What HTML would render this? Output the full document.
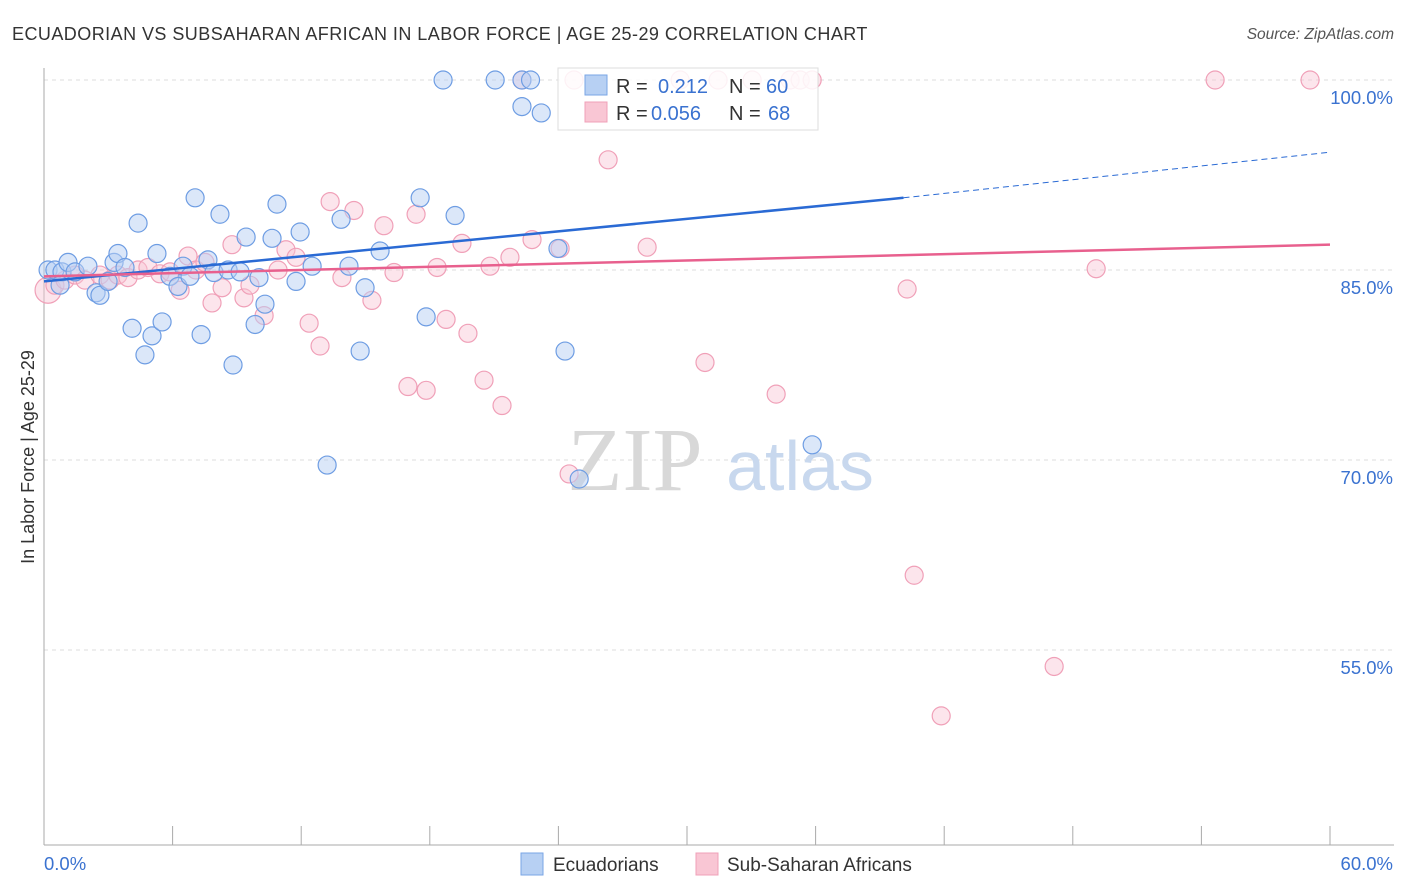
<!DOCTYPE html>
<html><head><meta charset="utf-8"><style>
body{margin:0;background:#fff;font-family:"Liberation Sans",sans-serif;}
svg{display:block}
</style></head><body>
<svg width="1406" height="892" xmlns="http://www.w3.org/2000/svg">
<text x="12" y="40" font-size="18" fill="#333" letter-spacing="0.45">ECUADORIAN VS SUBSAHARAN AFRICAN IN LABOR FORCE | AGE 25-29 CORRELATION CHART</text>
<text x="1394" y="39" font-size="15.5" fill="#555" text-anchor="end" font-style="italic">Source: ZipAtlas.com</text>
<text x="0" y="0" transform="translate(34,457) rotate(-90)" font-size="18" fill="#333" text-anchor="middle">In Labor Force | Age 25-29</text>
<g id="grid"></g>
<g><text x="635" y="490" font-size="90" font-family="Liberation Serif,serif" fill="#d8d8d8" text-anchor="middle">ZIP</text><text x="800" y="490" font-size="70" fill="#c8d8ee" text-anchor="middle">atlas</text></g>
<g id="pts"></g>
<g id="trend"></g>
<g>
<rect x="558" y="68" width="260" height="62" fill="#fff" fill-opacity="0.85" stroke="#ddd"/>
<rect x="585" y="75" width="22" height="20" fill="#b7d0f3" stroke="#7aa6e6"/>
<rect x="585" y="102" width="22" height="20" fill="#f9c6d4" stroke="#f0a0b8"/>
<text x="616" y="93" font-size="20" fill="#333">R = </text><text x="658" y="93" font-size="20" fill="#3a72d0">0.212</text>
<text x="729" y="93" font-size="20" fill="#333">N = </text><text x="766" y="93" font-size="20" fill="#3a72d0">60</text>
<text x="616" y="120" font-size="20" fill="#333">R = </text><text x="651" y="120" font-size="20" fill="#3a72d0">0.056</text>
<text x="729" y="120" font-size="20" fill="#333">N = </text><text x="768" y="120" font-size="20" fill="#3a72d0">68</text>
</g>
<g>
<rect x="521" y="853" width="22" height="22" fill="#b7d0f3" stroke="#7aa6e6"/>
<text x="553" y="871" font-size="19" fill="#333">Ecuadorians</text>
<rect x="696" y="853" width="22" height="22" fill="#f9c6d4" stroke="#f0a0b8"/>
<text x="727" y="871" font-size="19" fill="#333">Sub-Saharan Africans</text>
</g>
</svg>
<script>
const yTicks=[100,85,70,55];
const yTickLabels=["100.0%","85.0%","70.0%","55.0%"];
const xTicks=[0,6,12,18,24,30,36,42,48,54,60];
const blueX=[0.19,0.51,0.84,1.12,0.75,1.45,2.05,2.43,2.61,2.99,3.27,3.45,3.78,4.11,4.39,4.71,5.04,5.27,5.51,5.88,6.25,6.49,6.81,7.05,7.33,7.65,7.93,8.21,8.59,8.82,9.15,9.43,9.85,10.03,10.31,10.64,10.87,11.76,11.95,12.51,13.21,13.86,14.23,14.75,14.98,15.68,17.55,17.83,18.62,19.18,21.05,22.3,22.7,22.3,23.2,23.98,24.31,24.97,35.84];
const blueY=[85.0,85.0,84.85,85.6,83.8,84.85,85.3,83.2,83.0,84.1,85.6,86.3,85.2,80.4,88.7,78.3,79.8,86.3,80.9,84.5,83.7,85.3,84.5,90.7,79.9,85.8,84.8,89.4,85.0,77.5,84.85,87.6,80.7,84.4,82.3,87.5,90.2,84.1,88.0,85.3,69.6,89.0,85.3,78.6,83.6,86.5,90.7,81.3,100,89.3,100,100,100,97.9,97.4,86.7,78.6,68.5,71.2];
const pinkX=[0.19,0.51,0.98,1.45,1.91,2.61,3.08,3.45,3.92,4.39,4.85,5.41,5.88,6.35,6.72,7.09,7.51,7.84,8.31,8.77,9.33,9.61,10.27,10.92,11.29,11.76,12.37,12.88,13.35,13.9,14.46,15.3,15.86,16.33,16.98,17.36,17.83,18.34,18.76,19.5,19.78,20.53,20.81,21.37,21.74,22.77,24.08,24.5,24.73,26.32,28.14,29.68,30.84,31.45,33.04,34.16,34.81,35.28,35.84,40.27,40.6,41.86,47.13,49.09,54.64,59.07,22.3];
const pinkY=[83.4,83.8,84.2,84.6,84.2,84.6,84.2,84.6,84.4,85.0,85.2,84.7,84.85,83.4,86.1,85.0,85.6,82.4,83.6,87.0,82.8,83.8,81.4,85.0,86.6,86.0,80.8,79.0,90.4,84.4,89.7,82.6,88.5,84.8,75.8,89.4,75.5,85.2,81.1,87.1,80.0,76.3,85.3,74.3,86.0,87.4,86.7,68.9,100,93.7,86.8,100,77.7,100,100,75.2,100,100,100,83.5,60.9,49.8,53.7,85.1,100,100,100];
const blueTrend=[[0,84.1],[40.1,90.7],[60,94.3]];
const pinkTrend=[[0,84.5],[60,87.0]];
const NS="http://www.w3.org/2000/svg";
const X=v=>44+v*1286/60, Y=v=>80+(100-v)*190/15;
function mk(tag,attrs,parent){const e=document.createElementNS(NS,tag);for(const k in attrs)e.setAttribute(k,attrs[k]);parent.appendChild(e);return e;}
const grid=document.getElementById('grid');
yTicks.forEach((t,i)=>{
 const l=mk('line',{x1:44,x2:1394,y1:Y(t),y2:Y(t),stroke:'#ddd','stroke-dasharray':'4,4'},grid);
 
 
 const tx=mk('text',{x:1393,y:Y(t)+24,'font-size':18.5,fill:'#3a72d0','text-anchor':'end'},grid);
 tx.textContent=yTickLabels[i];
 
 
});
const ax=mk('line',{x1:44,x2:44,y1:68,y2:845,stroke:'#aaa'},grid);


const bx=mk('line',{x1:44,x2:1394,y1:845,y2:845,stroke:'#aaa'},grid);


xTicks.forEach(t=>{const l=mk('line',{x1:X(t),x2:X(t),y1:826,y2:845,stroke:'#aaa'},grid);
 
 });
const xl0=mk('text',{x:44,y:870,'font-size':18.5,fill:'#3a72d0'},grid);xl0.textContent='0.0%';


const xl1=mk('text',{x:1393,y:870,'font-size':18.5,fill:'#3a72d0','text-anchor':'end'},grid);xl1.textContent='60.0%';


const pts=document.getElementById('pts');
pinkX.forEach((x,i)=>{const c=mk('circle',{cx:X(x),cy:Y(pinkY[i]),r:i==0?13:9,fill:'#f9c6d4','fill-opacity':0.45,stroke:'#f0a0b8','stroke-width':1.2},pts);
 
 });
blueX.forEach((x,i)=>{const c=mk('circle',{cx:X(x),cy:Y(blueY[i]),r:9,fill:'#b7d0f3','fill-opacity':0.5,stroke:'#6e9de3','stroke-width':1.2},pts);
 
 });
const tr=document.getElementById('trend');
const b1=mk('line',{x1:X(blueTrend[0][0]),y1:Y(blueTrend[0][1]),x2:X(blueTrend[1][0]),y2:Y(blueTrend[1][1]),stroke:'#2a6ad4','stroke-width':2.5},tr);


const b2=mk('line',{x1:X(blueTrend[1][0]),y1:Y(blueTrend[1][1]),x2:X(blueTrend[2][0]),y2:Y(blueTrend[2][1]),stroke:'#2a6ad4','stroke-width':1,'stroke-dasharray':'6,4'},tr);


const p1=mk('line',{x1:X(pinkTrend[0][0]),y1:Y(pinkTrend[0][1]),x2:X(pinkTrend[1][0]),y2:Y(pinkTrend[1][1]),stroke:'#e8608e','stroke-width':2.5},tr);


</script>
</body></html>
